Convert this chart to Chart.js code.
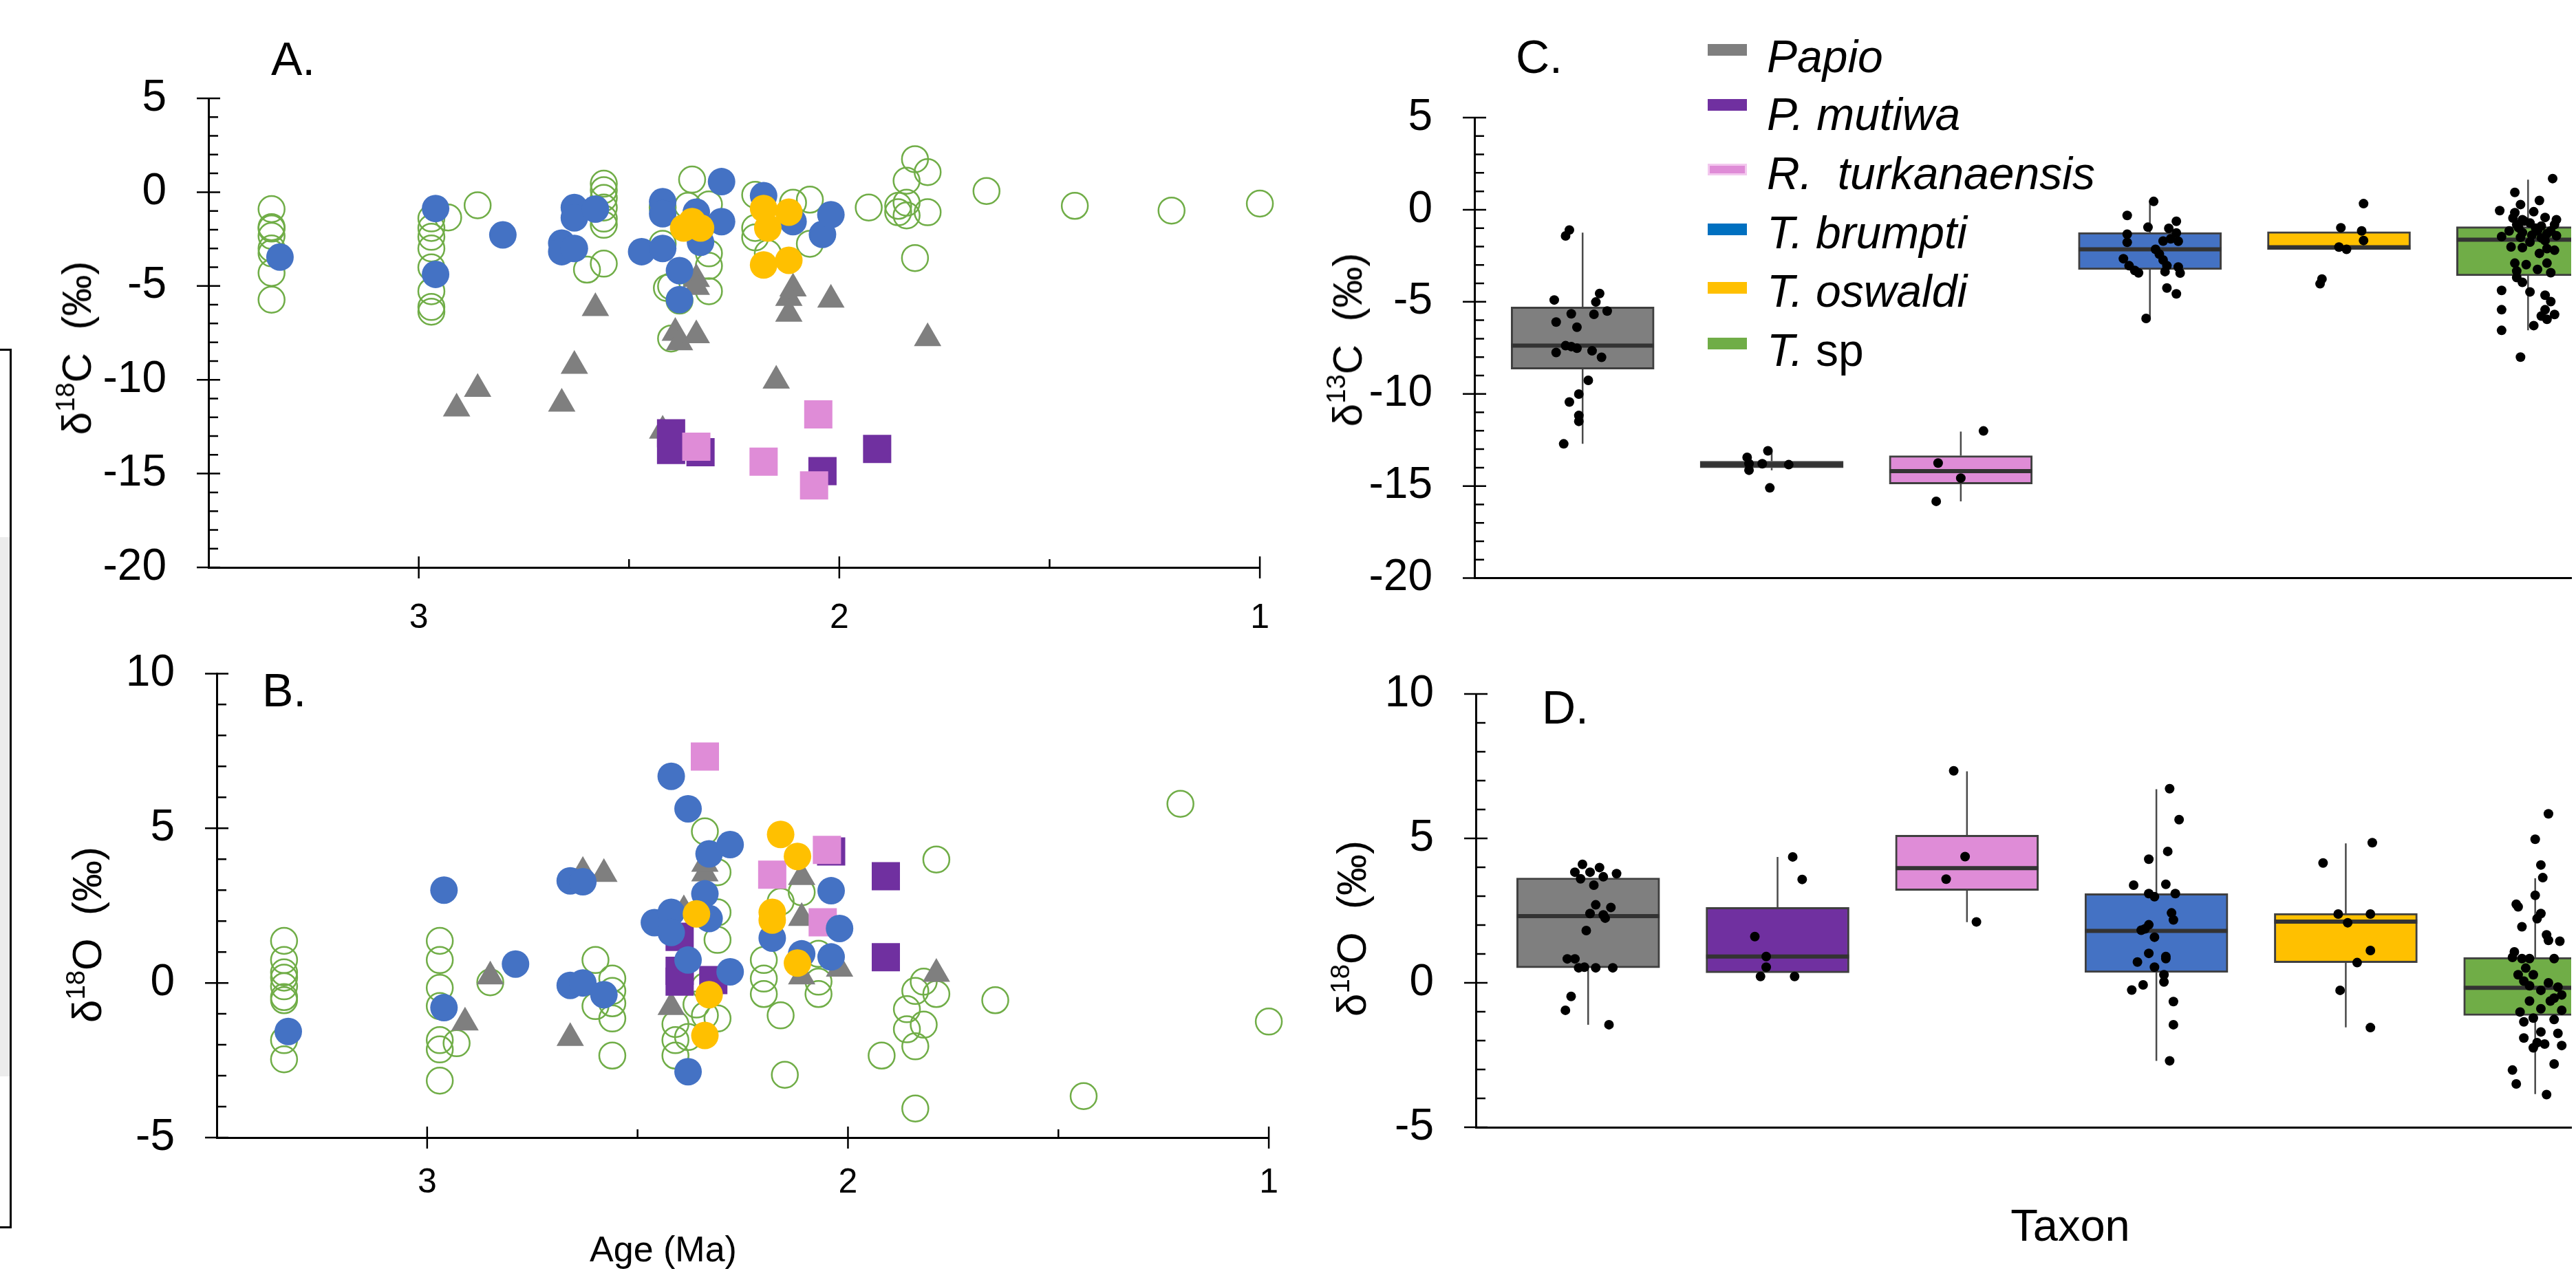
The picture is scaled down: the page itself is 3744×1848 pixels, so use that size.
<!DOCTYPE html>
<html>
<head>
<meta charset="utf-8">
<script src="https://cdn.jsdelivr.net/npm/chart.js@4.4.1/dist/chart.umd.min.js"></script>
<style>
html, body { margin: 0; padding: 0; background: #fff; }
body { width: 3744px; height: 1848px; position: relative; overflow: hidden; font-family: "Liberation Sans", Arial, sans-serif; }
canvas { position: absolute; }
.txt { position: absolute; white-space: nowrap; color: #000; line-height: 1; }
.rot { transform: translate(-50%, -50%) rotate(-90deg); font-size: 60px; }
.rot sup { font-size: 0.64em; vertical-align: 0.62em; line-height: 0; }
.lab { font-size: 68px; }
.leg { font-size: 66px; font-style: italic; }
.sw { position: absolute; width: 57px; height: 17px; }
</style>
</head>
<body>

<!-- remains of the neighbouring figure on the left edge -->
<div style="position:absolute;left:0;top:781px;width:14px;height:784px;background:#ececec"></div>
<div style="position:absolute;left:14px;top:508px;width:3px;height:1278px;background:#000"></div>
<div style="position:absolute;left:0;top:507px;width:17px;height:3px;background:#000"></div>
<div style="position:absolute;left:0;top:1783px;width:17px;height:3px;background:#000"></div>

<canvas id="chartA" width="1889" height="940" style="left:0;top:0"></canvas>
<canvas id="chartB" width="1894" height="968" style="left:0;top:880px"></canvas>
<canvas id="chartC" width="1844" height="940" style="left:1900px;top:0"></canvas>
<canvas id="chartD" width="1844" height="968" style="left:1900px;top:880px"></canvas>

<div class="txt lab" style="left:394px;top:51px">A.</div>
<div class="txt lab" style="left:381px;top:969px">B.</div>
<div class="txt lab" style="left:2203px;top:48px">C.</div>
<div class="txt lab" style="left:2241px;top:994px">D.</div>

<div class="txt rot" style="left:112px;top:506px">δ<sup>18</sup>C&nbsp;&nbsp;(‰)</div>
<div class="txt rot" style="left:127px;top:1359px">δ<sup>18</sup>O&nbsp;&nbsp;(‰)</div>
<div class="txt rot" style="left:1959px;top:494px">δ<sup>13</sup>C&nbsp;&nbsp;(‰)</div>
<div class="txt rot" style="left:1965px;top:1350px">δ<sup>18</sup>O&nbsp;&nbsp;(‰)</div>

<div class="txt" style="left:964px;top:1790px;font-size:52px;transform:translateX(-50%)">Age (Ma)</div>
<div class="txt" style="left:3009px;top:1749px;font-size:65px;transform:translateX(-50%)">Taxon</div>

<div class="sw" style="left:2482px;top:64px;background:#7f7f7f"></div>
<div class="txt leg" style="left:2568px;top:49px">Papio</div>
<div class="sw" style="left:2482px;top:144px;background:#7030a0"></div>
<div class="txt leg" style="left:2568px;top:133px">P. mutiwa</div>
<div class="sw" style="left:2482px;top:238px;background:#df8cd7;box-sizing:border-box;border:3px solid #f3c8ee"></div>
<div class="txt leg" style="left:2568px;top:219px">R.&nbsp; turkanaensis</div>
<div class="sw" style="left:2482px;top:325px;background:#0070c0"></div>
<div class="txt leg" style="left:2568px;top:305px">T. brumpti</div>
<div class="sw" style="left:2482px;top:410px;background:#ffc000"></div>
<div class="txt leg" style="left:2568px;top:390px">T. oswaldi</div>
<div class="sw" style="left:2482px;top:491px;background:#70ad47"></div>
<div class="txt leg" style="left:2568px;top:476px">T.<span style="font-style:normal"> sp</span></div>

<script>
// ---------- panel A: age (Ma) vs d13C ----------
var aTsp = [[3.35,-0.90],[3.35,-1.86],[3.35,-1.94],[3.35,-2.33],[3.35,-3.00],[3.35,-3.26],[3.35,-4.30],[3.35,-5.73],
	[2.97,-1.40],[2.97,-1.91],[2.97,-2.38],[2.97,-3.00],[2.97,-4.01],[2.97,-5.28],[2.97,-6.12],[2.97,-6.37],
	[2.93,-1.35],[2.86,-0.70],
	[2.56,0.45],[2.56,0.11],[2.56,-0.31],[2.56,-0.82],[2.56,-1.41],[2.56,-1.74],[2.56,-3.81],[2.60,-4.13],
	[2.35,0.67],[2.36,-0.73],[2.31,-0.65],[2.42,-0.82],[2.33,-1.91],[2.31,-3.26],[2.31,-3.93],[2.42,-2.75],
	[2.41,-5.11],[2.40,-5.02],[2.31,-5.28],[2.40,-7.80],[2.38,-5.78],
	[2.20,-0.14],[2.20,-1.91],[2.20,-2.41],[2.17,-3.26],[2.11,-0.56],[2.07,-0.40],[2.07,-2.75],
	[1.93,-0.82],[1.86,-0.73],[1.86,-1.07],[1.84,0.61],[1.84,-0.56],[1.84,-1.24],[1.82,1.76],[1.79,1.07],
	[1.79,-1.07],[1.82,-3.51],[1.65,0.06],[1.44,-0.73],[1.21,-0.98],[1.00,-0.61]];
var aBrumpti = [[3.33,-3.46],[2.96,-0.87],[2.96,-4.38],[2.80,-2.28],[2.63,-0.82],[2.63,-1.37],[2.58,-0.90],
	[2.66,-2.72],[2.66,-3.17],[2.63,-3.00],[2.42,-0.51],[2.42,-1.15],[2.47,-3.17],[2.42,-3.00],[2.38,-4.18],
	[2.38,-5.73],[2.34,-1.07],[2.28,0.56],[2.28,-1.57],[2.33,-2.67],[2.18,-0.19],[2.11,-1.57],[2.04,-2.25],[2.02,-1.20]];
var aOswaldi = [[2.37,-1.91],[2.35,-1.57],[2.33,-1.91],[2.18,-0.87],[2.17,-1.91],[2.12,-1.07],[2.18,-3.88],[2.12,-3.63]];
var aPapio = [[2.91,-11.53],[2.86,-10.49],[2.66,-11.28],[2.63,-9.26],[2.58,-6.18],[2.42,-12.71],[2.34,-4.63],
	[2.34,-5.05],[2.39,-7.50],[2.38,-8.00],[2.34,-7.63],[2.11,-5.14],[2.12,-5.64],[2.12,-6.48],[2.02,-5.73],
	[1.79,-7.78],[2.15,-10.05]];
var aMutiwa = [[2.40,-12.85],[2.40,-13.74],[2.33,-13.86],[2.04,-14.87],[1.91,-13.69]];
var aTurk = [[2.34,-13.57],[2.05,-11.84],[2.18,-14.36],[2.06,-15.63]];

// ---------- panel B: age (Ma) vs d18O ----------
var bTsp = [[3.34,1.36],[3.34,0.74],[3.34,0.34],[3.34,0.17],[3.34,-0.11],[3.34,-0.46],[3.34,-0.56],[3.34,-1.85],[3.34,-2.47],
	[2.97,1.36],[2.97,0.74],[2.97,-0.16],[2.97,-0.75],[2.97,-1.85],[2.97,-2.15],[2.97,-3.16],[2.93,-1.95],[2.85,0.02],
	[2.60,0.74],[2.56,0.14],[2.56,-0.26],[2.56,-0.66],[2.56,-1.15],[2.56,-2.35],[2.60,-0.75],
	[2.34,4.90],[2.31,3.58],[2.31,2.28],[2.31,1.39],[2.41,-1.33],[2.41,-1.85],[2.41,-2.35],[2.38,-1.75],
	[2.36,-0.70],[2.34,-1.05],[2.31,-1.15],[2.34,-0.11],
	[2.16,2.63],[2.11,2.93],[2.20,0.74],[2.20,0.14],[2.20,-0.36],[2.16,-1.05],[2.15,-2.97],[2.07,0.94],[2.07,0.04],[2.07,-0.36],
	[1.79,3.99],[1.82,0.04],[1.84,-0.26],[1.79,-0.36],[1.86,-0.85],[1.86,-1.50],[1.82,-1.35],[1.84,-2.05],[1.92,-2.35],
	[1.84,-4.06],[1.65,-0.56],[1.44,-3.66],[1.21,5.79],[1.00,-1.25]];
var bBrumpti = [[3.33,-1.57],[2.96,3.00],[2.96,-0.80],[2.79,0.61],[2.66,3.30],[2.63,3.27],[2.66,-0.08],[2.63,0.00],
	[2.58,-0.38],[2.42,6.68],[2.38,5.63],[2.33,4.17],[2.28,4.47],[2.34,2.88],[2.46,1.95],[2.42,2.28],[2.42,1.63],
	[2.33,2.08],[2.38,0.74],[2.28,0.36],[2.38,-2.87],[2.04,2.98],[2.02,1.76],[2.18,1.45],[2.11,0.94],[2.04,0.84]];
var bOswaldi = [[2.36,2.23],[2.33,-0.38],[2.34,-1.70],[2.16,4.80],[2.12,4.09],[2.18,2.28],[2.18,2.03],[2.12,0.64]];
var bPapio = [[2.85,0.21],[2.91,-1.28],[2.66,-1.78],[2.63,3.59],[2.58,3.52],[2.34,3.54],[2.34,3.85],[2.39,2.35],
	[2.42,-0.78],[2.11,3.42],[2.11,2.10],[2.11,0.21],[2.02,0.46],[1.79,0.29]];
var bMutiwa = [[2.40,1.49],[2.40,0.39],[2.40,0.04],[2.32,0.09],[2.04,4.25],[1.91,3.45],[1.91,0.83]];
var bTurk = [[2.34,7.32],[2.18,3.50],[2.05,4.30],[2.06,1.96]];

// ---------- panels C and D: box plots by taxon ----------
var taxa = ['Papio', 'P. mutiwa', 'R. turkanaensis', 'T. brumpti', 'T. oswaldi', 'T. sp'];

var cQ1     = [-8.65, -14.01, -14.89, -3.25, -2.17, -3.58];
var cMedian = [-7.38, -13.84, -14.19, -2.15, -2.04, -1.63];
var cQ3     = [-5.28, -13.65, -13.35, -1.24, -1.19, -0.92];
var cLow    = [-12.71, -14.14, -15.83, -5.91, -2.17, -6.55];
var cHigh   = [-1.24, -13.10, -12.04, 0.50, -1.19, 1.63];

var dQ1     = [0.52, 0.35, 3.20, 0.36, 0.70, -1.13];
var dMedian = [2.31, 0.91, 3.97, 1.80, 2.12, -0.17];
var dQ3     = [3.63, 2.61, 5.11, 3.09, 2.40, 0.88];
var dLow    = [-1.45, 0.35, 2.10, -2.70, -1.54, -3.85];
var dHigh   = [3.63, 4.36, 7.32, 6.70, 4.83, 3.62];

// jittered samples: [offset from taxon centre, value]
var cPoints = [
	[[-0.07,-1.10],[-0.09,-1.42],[-0.15,-4.90],[0.09,-4.55],[0.07,-5.01],[-0.06,-5.65],[0.06,-5.68],[0.13,-5.50],
	 [-0.14,-6.10],[-0.03,-6.38],[-0.09,-7.38],[-0.06,-7.43],[-0.03,-7.52],[-0.14,-7.75],[0.05,-7.66],[0.10,-8.01],
	 [0.03,-9.26],[-0.02,-10.01],[-0.07,-10.44],[-0.02,-11.17],[-0.02,-11.49],[-0.10,-12.71]],
	[[-0.02,-13.09],[-0.13,-13.44],[-0.12,-13.79],[-0.05,-13.79],[0.09,-13.84],[-0.12,-14.14],[-0.01,-15.10]],
	[[0.12,-12.01],[-0.12,-13.75],[0.00,-14.57],[-0.13,-15.83]],
	[[0.02,0.45],[-0.12,-0.31],[-0.01,-0.95],[0.14,-0.63],[0.10,-1.01],[0.14,-1.26],[0.11,-1.58],[0.15,-1.71],
	 [-0.12,-1.33],[-0.12,-1.77],[0.07,-1.70],[0.03,-2.15],[0.05,-2.41],[0.07,-2.73],[0.09,-3.04],[0.08,-3.36],
	 [-0.14,-2.66],[-0.11,-3.04],[-0.08,-3.30],[-0.06,-3.43],[0.15,-3.11],[0.16,-3.44],[0.09,-4.25],[0.14,-4.57],[-0.02,-5.90]],
	[[0.13,0.33],[0.01,-0.98],[0.12,-1.15],[0.13,-1.67],[0.00,-2.03],[0.04,-2.15],[-0.09,-3.76],[-0.10,-4.02]],
	[[0.13,1.69],[-0.07,0.94],[0.06,0.50],[-0.04,0.28],[-0.15,-0.05],[-0.07,-0.16],[0.03,-0.11],[-0.08,-0.45],
	 [-0.03,-0.54],[0.09,-0.42],[0.15,-0.54],[-0.06,-0.81],[0.01,-0.72],[0.07,-0.89],[0.14,-0.81],[-0.10,-1.15],
	 [-0.03,-1.24],[0.05,-1.15],[0.12,-1.15],[-0.14,-1.46],[-0.04,-1.50],[0.07,-1.53],[0.15,-1.41],[0.01,-1.76],
	 [0.09,-1.68],[-0.09,-2.02],[-0.03,-2.06],[0.10,-2.11],[0.14,-2.20],[0.06,-2.37],[-0.07,-2.90],[-0.01,-2.98],
	 [0.10,-2.90],[-0.06,-3.33],[0.05,-3.24],[0.12,-3.42],[-0.06,-3.68],[-0.03,-3.94],[-0.14,-4.38],[0.01,-4.46],
	 [0.09,-4.64],[0.12,-4.99],[-0.14,-5.43],[0.09,-5.43],[0.07,-5.77],[0.14,-5.69],[0.10,-5.95],[0.03,-6.29],
	 [-0.14,-6.55],[-0.04,-8.00],[-0.02,-0.62],[0.04,-1.00],[0.10,-1.30],[-0.05,-0.98],[0.02,-1.38]]
];
var dPoints = [
	[[-0.03,4.10],[0.06,3.99],[-0.07,3.83],[0.01,3.83],[0.15,3.78],[-0.04,3.60],[0.08,3.67],[0.03,3.38],
	 [0.04,2.70],[0.12,2.61],[0.01,2.40],[0.09,2.24],[0.08,2.35],[-0.01,1.81],[-0.11,0.83],[-0.07,0.83],
	 [-0.05,0.52],[-0.02,0.54],[0.04,0.52],[0.13,0.52],[-0.09,-0.47],[-0.12,-0.95],[0.11,-1.45]],
	[[0.08,4.36],[0.13,3.58],[-0.12,1.60],[-0.06,0.91],[-0.06,0.54],[-0.09,0.22],[0.09,0.22]],
	[[-0.07,7.34],[-0.01,4.37],[-0.11,3.59],[0.05,2.11]],
	[[0.07,6.72],[0.12,5.65],[0.06,4.55],[-0.04,4.28],[-0.12,3.38],[0.05,3.41],[-0.04,3.09],[-0.01,2.98],
	 [0.10,3.09],[0.08,2.42],[0.09,2.18],[-0.04,2.01],[-0.08,1.82],[-0.06,1.87],[-0.01,1.58],[-0.04,1.02],
	 [0.05,0.91],[0.05,0.84],[-0.10,0.72],[-0.01,0.54],[0.04,0.28],[0.04,0.03],[-0.13,-0.25],[-0.07,-0.07],
	 [0.09,-0.65],[0.09,-1.45],[0.07,-2.70]],
	[[0.14,4.85],[-0.12,4.15],[-0.04,2.38],[0.13,2.38],[0.01,2.08],[0.13,1.12],[0.06,0.70],[-0.03,-0.26],[0.13,-1.55]],
	[[0.07,5.85],[0.00,4.97],[0.03,4.08],[0.04,3.64],[0.00,3.03],[-0.10,2.72],[-0.09,2.63],[0.03,2.40],[0.01,2.22],
	 [-0.07,1.94],[0.06,1.66],[0.07,1.47],[0.13,1.44],[-0.11,1.07],[-0.12,0.88],[-0.07,0.84],[-0.03,0.84],[0.10,0.84],
	 [-0.05,0.51],[-0.09,0.28],[-0.01,0.28],[-0.06,0.06],[-0.03,-0.10],[0.07,0.00],[0.12,-0.15],[0.03,-0.26],
	 [0.14,-0.42],[0.10,-0.53],[-0.03,-0.63],[0.08,-0.63],[-0.08,-1.01],[0.03,-0.90],[0.14,-0.95],[-0.01,-1.22],
	 [0.10,-1.27],[-0.06,-1.35],[0.03,-1.70],[0.12,-1.75],[-0.06,-1.91],[0.01,-2.07],[0.05,-2.12],[0.14,-2.17],
	 [-0.01,-2.25],[0.10,-2.81],[-0.12,-3.02],[-0.10,-3.50],[0.06,-3.87]]
];

var taxonColours = ['#7f7f7f', '#7030a0', '#df8cd7', '#4472c4', '#ffc000', '#70ad47'];

Chart.defaults.font.family = '"Liberation Sans", Arial, sans-serif';
Chart.defaults.color = '#000';

// axis ticks: majors cross the axis, minors point inward
var axisTicks = {
	id: 'axisTicks',
	afterDraw: function(chart, args, opts) {
		var ctx = chart.ctx, area = chart.chartArea;
		var sx = chart.scales.x, sy = chart.scales.y;
		ctx.save();
		ctx.strokeStyle = '#000';
		ctx.lineWidth = 2.5;
		ctx.beginPath();
		for (var v = sy.min; v <= sy.max + 1e-9; v += 1) {
			var py = sy.getPixelForValue(v);
			var major = Math.abs(v % 5) < 1e-9;
			ctx.moveTo(area.left - (major ? 17 : 0), py);
			ctx.lineTo(area.left + (major ? 17 : 14), py);
		}
		(opts.xMajor || []).forEach(function(v) {
			var px = sx.getPixelForValue(v);
			ctx.moveTo(px, area.bottom - 16);
			ctx.lineTo(px, area.bottom + 16);
		});
		(opts.xMinor || []).forEach(function(v) {
			var px = sx.getPixelForValue(v);
			ctx.moveTo(px, area.bottom - 12);
			ctx.lineTo(px, area.bottom);
		});
		ctx.stroke();
		ctx.restore();
	}
};

function pts(list) {
	return list.map(function(p) { return {x: p[0], y: p[1]}; });
}

function filled(list, colour, style, radius) {
	return {data: pts(list), pointStyle: style, pointRadius: radius, backgroundColor: colour,
		borderWidth: 0, clip: false};
}

function scatterChart(id, sets, yMin, yMax, opts) {
	return new Chart(document.getElementById(id), {
		type: 'scatter',
		data: {datasets: sets},
		options: {
			responsive: false,
			animation: false,
			events: [],
			layout: {padding: {top: opts.top, right: 40, left: 0, bottom: 0}},
			plugins: {legend: {display: false}, tooltip: {enabled: false},
				axisTicks: {xMajor: [3, 2, 1], xMinor: [2.5, 1.5]}},
			scales: {
				x: {
					type: 'linear', reverse: true, min: 1, max: 3.5,
					afterBuildTicks: function(s) { s.ticks = [{value: 3}, {value: 2}, {value: 1}]; },
					afterFit: function(s) { s.height = opts.xHeight; },
					grid: {display: false, drawTicks: false},
					border: {display: true, color: '#000', width: 3},
					ticks: {font: {size: 50}, padding: opts.xPad}
				},
				y: {
					type: 'linear', min: yMin, max: yMax,
					ticks: {stepSize: 5, font: {size: 64}, padding: 61},
					afterFit: function(s) { s.width = opts.yWidth; },
					grid: {display: false, drawTicks: false},
					border: {display: true, color: '#000', width: 3}
				}
			}
		},
		plugins: [axisTicks]
	});
}

function markerSets(tsp, brumpti, oswaldi, papio, mutiwa, turk) {
	// first in the list is drawn on top
	return [
		filled(oswaldi, '#ffc000', 'circle', 20),
		filled(brumpti, '#4472c4', 'circle', 20),
		filled(turk, '#df8cd7', 'rect', 29),
		filled(mutiwa, '#7030a0', 'rect', 29),
		filled(papio, '#7f7f7f', 'triangle', 23),
		{data: pts(tsp), pointStyle: 'circle', pointRadius: 19, backgroundColor: 'rgba(0,0,0,0)',
			borderColor: '#70ad47', borderWidth: 2.5, clip: false}
	];
}

scatterChart('chartA', markerSets(aTsp, aBrumpti, aOswaldi, aPapio, aMutiwa, aTurk), -20, 5,
	{top: 143, xHeight: 115, yWidth: 303, xPad: 44});
scatterChart('chartB', markerSets(bTsp, bBrumpti, bOswaldi, bPapio, bMutiwa, bTurk), -5, 10,
	{top: 91, xHeight: 194, yWidth: 315, xPad: 36});

function boxChart(id, q1, med, q3, low, high, samples, yMin, yMax, opts) {
	var half = 0.377;
	var dots = [], medians = [], boxes = [], whiskers = [];
	taxa.forEach(function(t, i) {
		samples[i].forEach(function(p) { dots.push({x: i + p[0], y: p[1]}); });
		medians.push({x: i - half, y: med[i]}, {x: i + half, y: med[i]}, {x: i, y: null});
		boxes.push({x: i, y: [q1[i], q3[i]]});
		whiskers.push({x: i, y: low[i]}, {x: i, y: q1[i]}, {x: i, y: null},
			{x: i, y: q3[i]}, {x: i, y: high[i]}, {x: i, y: null});
	});
	return new Chart(document.getElementById(id), {
		type: 'scatter',
		data: {
			datasets: [
				{type: 'scatter', data: dots, pointRadius: 7, backgroundColor: '#000', borderWidth: 0},
				{type: 'line', data: medians, borderColor: '#333333', borderWidth: 6, pointRadius: 0, spanGaps: false},
				{type: 'bar', data: boxes, backgroundColor: taxonColours, borderColor: '#3f3f3f',
					borderWidth: 3, borderSkipped: false, barThickness: 208},
				{type: 'line', data: whiskers, borderColor: '#4a4a4a', borderWidth: 2.5, pointRadius: 0, spanGaps: false}
			]
		},
		options: {
			responsive: false,
			animation: false,
			events: [],
			layout: {padding: {top: opts.top, right: 0, left: 0, bottom: 0}},
			plugins: {legend: {display: false}, tooltip: {enabled: false}, axisTicks: {}},
			scales: {
				x: {
					type: 'linear', min: opts.xMin, max: opts.xMax, offset: false,
					afterFit: function(s) { s.height = opts.xHeight; },
					grid: {display: false, drawTicks: false},
					border: {display: true, color: '#000', width: 3},
					ticks: {display: false}
				},
				y: {
					type: 'linear', min: yMin, max: yMax,
					ticks: {stepSize: 5, font: {size: 64}, padding: 61},
					afterFit: function(s) { s.width = opts.yWidth; },
					grid: {display: false, drawTicks: false},
					border: {display: true, color: '#000', width: 3}
				}
			}
		},
		plugins: [axisTicks]
	});
}

boxChart('chartC', cQ1, cMedian, cQ3, cLow, cHigh, cPoints, -20, 5,
	{top: 171, xHeight: 92, yWidth: 243, xMin: -0.572, xMax: 5.228});
boxChart('chartD', dQ1, dMedian, dQ3, dLow, dHigh, dPoints, -5, 10,
	{top: 129, xHeight: 209, yWidth: 245, xMin: -0.593, xMax: 5.19});
</script>
</body>
</html>
